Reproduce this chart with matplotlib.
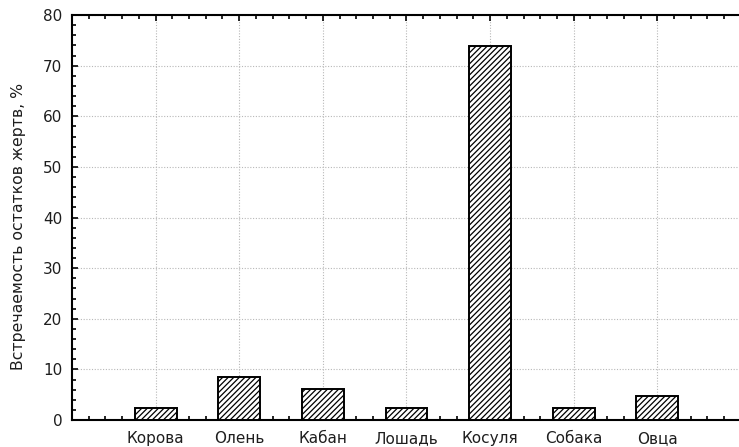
import matplotlib
matplotlib.use("Agg")
import matplotlib.pyplot as plt
from matplotlib.ticker import MultipleLocator

# Встречаемость остатков жертв, %
species = ["Корова", "Олень", "Кабан", "Лошадь", "Косуля", "Собака", "Овца"]
occurrence = [2.4, 8.5, 6.1, 2.4, 73.9, 2.4, 4.8]

plt.rcParams['font.family'] = ['DejaVu Sans']
plt.rcParams['hatch.linewidth'] = 0.9

fig = plt.figure(figsize=(7.39, 4.47), dpi=100)
# right edge of the frame falls just outside the picture, as in the original
ax = fig.add_axes([0.0974, 0.0604, 0.912, 0.906])

positions = list(range(1, len(species) + 1))
ax.bar(positions, occurrence, width=0.5, color="white", edgecolor="black",
       linewidth=1.4, hatch="//////", zorder=3)

ax.set_xlim(0, 8.06)
ax.set_ylim(0, 80)
ax.set_xticks(positions)
ax.set_xticklabels(species)
ax.xaxis.set_minor_locator(MultipleLocator(0.2))
ax.yaxis.set_major_locator(MultipleLocator(10))
ax.yaxis.set_minor_locator(MultipleLocator(2))

ax.grid(True, which="major", color="#b8b8b8", linestyle=(0, (1, 1.5)),
        linewidth=0.8, zorder=0)

ax.tick_params(which="both", direction="in", top=True, right=True,
               colors="black", labelcolor="#1e1e1e", labelsize=11, width=1.2)
ax.tick_params(axis="x", which="major", length=4, pad=8)
ax.tick_params(axis="y", which="major", length=4, pad=7)
ax.tick_params(which="minor", length=3)
for sp in ax.spines.values():
    sp.set_linewidth(1.5)

ax.set_ylabel("Встречаемость остатков жертв, %", fontsize=11.3, color="#1e1e1e")
ax.yaxis.set_label_coords(-0.068, 0.479)

fig.savefig("out.png", dpi=100)
